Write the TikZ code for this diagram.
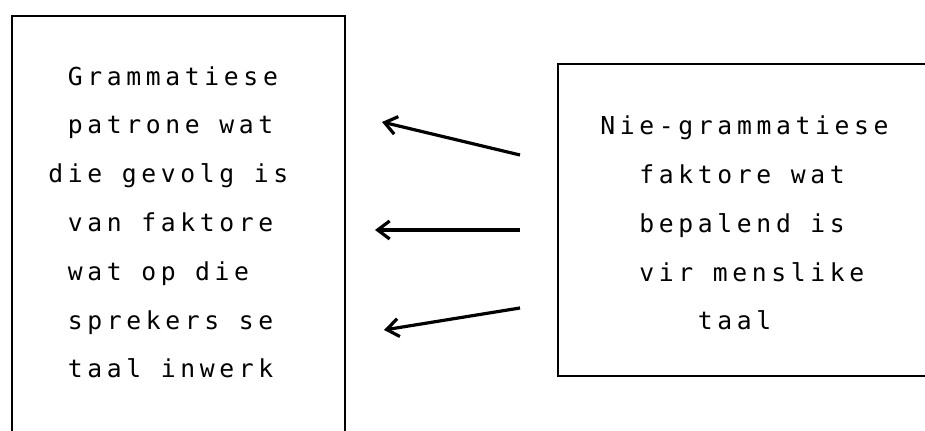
\documentclass[tikz,border=0pt]{standalone}
\usepackage{fontspec}
\newfontfamily\typewriter[LetterSpace=18.8]{DejaVu Sans Mono}
\usetikzlibrary{positioning,arrows.meta}

% one typewriter step
\newlength\pitch
\setlength\pitch{9.75pt}

\begin{document}
\begin{tikzpicture}[
    x=0.5pt, y=0.5pt,
    framebox/.style={rectangle, draw, line width=1pt, inner sep=0pt, anchor=north west},
    boxtext/.style={inner sep=0pt, anchor=base west, align=left, font=\typewriter\fontsize{12.35pt}{24.4pt}\selectfont},
    arrow/.style={-{Straight Barb[length=6pt, width=9pt]}, line width=1.6pt}
]
\clip (0,0) rectangle (925,431);

% the two frames
\node[framebox, minimum width=166.5pt, minimum height=220pt] (gram) at (11,416) {};
\node[framebox, minimum width=200pt, minimum height=156pt] (nie) at (557,368) {};

% typed text inside (base = last line)
\node[boxtext] (gramtext) at ([shift={(18.5pt,-181.5pt)}]gram.north west) {%
\hspace*{\pitch}Grammatiese\\
\hspace*{\pitch}patrone wat\\
die gevolg is\\
\hspace*{\pitch}van faktore\\
\hspace*{\pitch}wat op die\\
\hspace*{\pitch}sprekers se\\
\hspace*{\pitch}taal inwerk};
\node[boxtext] (nietext) at ([shift={(21.5pt,-133.5pt)}]nie.north west) {%
Nie-grammatiese\\
\hspace*{2\pitch}faktore wat\\
\hspace*{2\pitch}bepalend is\\
\hspace*{2\pitch}vir menslike\\
\hspace*{5\pitch}taal};

% arrow ends
\coordinate (tail1) at (520,276);
\coordinate (head1) at (382,309);
\coordinate (tail2) at (520,201);
\coordinate (head2) at (375,201);
\coordinate (tail3) at (520,123);
\coordinate (head3) at (384,101);

\draw[arrow] (tail1) -- (head1);
\draw[arrow] (tail2) -- (head2);
\draw[arrow] (tail3) -- (head3);
\end{tikzpicture}
\end{document}
